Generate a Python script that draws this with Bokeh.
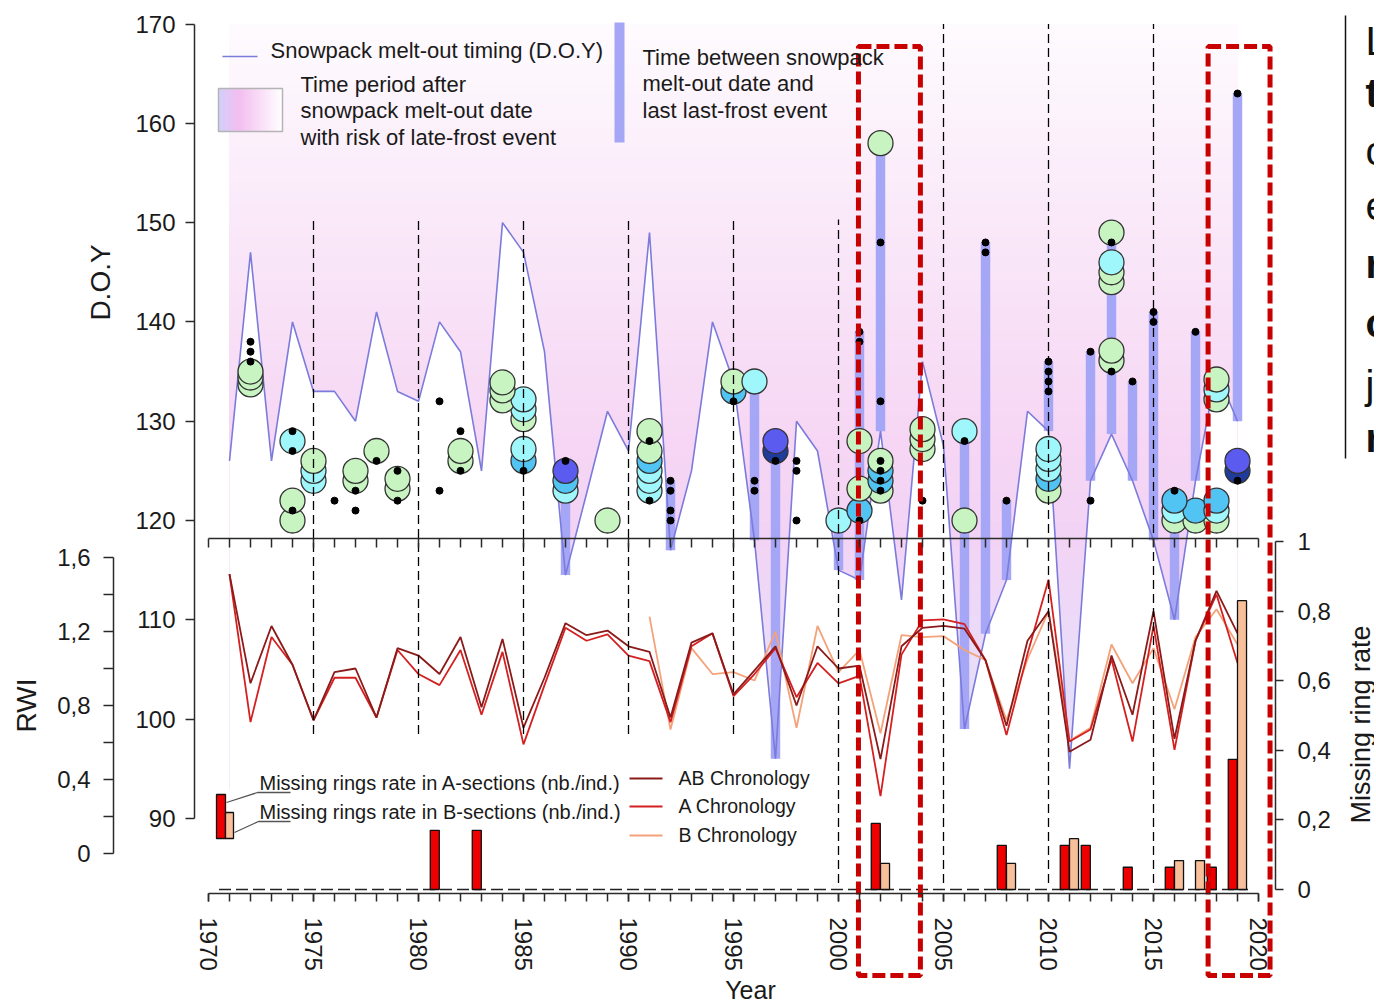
import numpy as np
from bokeh.plotting import figure
from bokeh.models import Range1d, LinearAxis, FixedTicker, CustomJSTickFormatter, ColumnDataSource
from bokeh.core.properties import value
from bokeh.transform import dodge
from bokeh.embed import file_html
from bokeh.resources import INLINE

# ---------------- data ----------------
years = list(range(1971, 2020))
melt_out_doy = [126, 147, 126, 140, 133, 133, 130, 141, 133, 132,
                140, 137, 125, 150, 147, 137, 114.5, 122.7, 131, 127,
                149, 117, 125, 140, 134, 118, 96, 130, 127, 115,
                114, 129, 112, 136, 127.5, 99, 108.6, 114, 131, 129,
                95, 124, 128.7, 124, 118, 110, 124, 135, 130]

rwi_ab = [1.51, 0.92, 1.23, 1.02, 0.72, 0.98, 1.00, 0.735, 1.11, 1.07,
          0.97, 1.17, 0.79, 1.16, 0.68, 0.95, 1.245, 1.18, 1.205, 1.12,
          1.09, 0.735, 1.14, 1.19, 0.86, 0.99, 1.12, 0.80, 1.12, 1.00,
          1.015, 0.51, 1.12, 1.22, 1.23, 1.215, 1.045, 0.69, 1.15, 1.31,
          0.55, 0.615, 1.07, 0.75, 1.31, 0.62, 1.15, 1.42, 1.19]
rwi_a = [1.51, 0.71, 1.17, 1.02, 0.72, 0.95, 0.95, 0.735, 1.10, 0.97,
         0.91, 1.10, 0.75, 1.09, 0.59, 0.91, 1.22, 1.15, 1.185, 1.07,
         1.04, 0.71, 1.12, 1.19, 0.85, 0.97, 1.11, 0.845, 1.03, 0.92,
         0.96, 0.31, 1.075, 1.26, 1.265, 1.24, 1.045, 0.64, 1.08, 1.48,
         0.605, 0.67, 1.05, 0.605, 1.23, 0.56, 1.15, 1.40, 1.03]
years_b = list(range(1991, 2020))
rwi_b = [1.28, 0.67, 1.11, 0.97, 0.98, 0.935, 1.20, 0.68, 1.23, 0.98,
         1.10, 0.65, 1.18, 1.17, 1.175, 1.10, 1.045, 0.72, 1.05, 1.31,
         0.61, 0.68, 1.13, 0.92, 1.11, 0.78, 1.17, 1.32, 1.13]

missing_a_years = [1981, 1983, 2002, 2008, 2011, 2012, 2014, 2016, 2018, 2019]
missing_a_rate = [0.17, 0.17, 0.19, 0.127, 0.127, 0.127, 0.064, 0.064, 0.064, 0.374]
missing_b_years = [2002, 2008, 2011, 2016, 2017, 2019]
missing_b_rate = [0.075, 0.075, 0.146, 0.083, 0.083, 0.83]

frost_bar_years = [1987, 1992, 1996, 1997, 2000, 2001, 2002, 2006, 2007,
                   2008, 2010, 2012, 2013, 2014, 2015, 2016, 2017, 2019]
last_frost_doy = [126, 124, 134, 128, 120, 139, 158, 129, 148,
                  122, 136, 137, 148, 134, 141, 123, 139, 163]

circle_years = [1972, 1972, 1972, 1974, 1974, 1974, 1975, 1975, 1975,
                1977, 1977, 1978, 1979, 1979, 1982, 1982, 1984, 1984, 1984,
                1985, 1985, 1985, 1985, 1985, 1987, 1987, 1987, 1989,
                1991, 1991, 1991, 1991, 1991, 1991, 1995, 1995, 1996,
                1997, 1997, 2000, 2001, 2001, 2001, 2002, 2002, 2002, 2002, 2002,
                2004, 2004, 2004, 2006, 2006, 2010, 2010, 2010, 2010, 2010,
                2013, 2013, 2013, 2013, 2013, 2013, 2016, 2016, 2016, 2017, 2017,
                2018, 2018, 2018, 2018, 2018, 2018, 2019, 2019]
circle_doy = [133.7, 134.4, 135.0, 120, 122, 128, 124, 125, 126,
              124, 125, 127, 123.2, 124.2, 126, 127, 132.1, 133.1, 133.9,
              126, 127.2, 130.2, 131.2, 132.2, 123, 124, 125, 120,
              123, 124, 125, 126, 127, 129, 133, 134, 134,
              127, 128, 120, 121, 123.2, 128, 123, 124, 125, 126, 158,
              127.2, 128.2, 129.2, 120, 129, 123, 124.2, 125.2, 126.2, 127.2,
              136.1, 137.1, 144, 145, 146, 149, 120, 121, 122, 120, 121,
              120, 121, 122, 132.2, 133.2, 134.2, 125, 126]
circle_class = ["g", "g", "g", "g", "g", "c", "c", "c", "g",
                "g", "g", "g", "g", "g", "g", "g", "g", "g", "g",
                "m", "c", "g", "c", "c", "c", "m", "b", "g",
                "c", "c", "c", "m", "g", "g", "m", "g", "c",
                "n", "b", "c", "m", "g", "g", "g", "m", "m", "g", "g",
                "g", "g", "g", "g", "c", "g", "m", "c", "c", "c",
                "g", "g", "g", "g", "c", "g", "g", "c", "m", "g", "m",
                "g", "c", "m", "g", "c", "g", "n", "b"]

dot_years = [1972, 1972, 1972, 1974, 1974, 1974, 1976, 1977, 1977, 1978,
             1979, 1979, 1981, 1981, 1982, 1982, 1985, 1987, 1991, 1991,
             1992, 1992, 1992, 1992, 1995, 1996, 1996, 1997, 1998, 1998, 1998,
             2001, 2001, 2001, 2002, 2002, 2002, 2002, 2002, 2002, 2004, 2006,
             2007, 2007, 2008, 2010, 2010, 2010, 2010, 2012, 2012, 2013, 2013,
             2014, 2015, 2015, 2016, 2017, 2019, 2019]
dot_doy = [136, 137, 138, 121, 127, 129, 122, 121, 123, 126,
           122, 125, 123, 132, 125, 129, 125, 126, 122, 128,
           120, 121, 123, 124, 132, 123, 124, 126, 120, 125, 126,
           120, 138, 139, 123, 124, 125, 126, 132, 148, 122, 128,
           147, 148, 122, 133, 134, 135, 136, 122, 137, 135, 148,
           134, 140, 141, 123, 139, 124, 163]

decade_lines = [1975, 1980, 1985, 1990, 1995, 2000, 2005, 2010, 2015]
decade_top_doy = [150.3, 150.3, 150.3, 150.3, 150.3, 150.3, 170, 170, 170]
decade_bottom_doy = [98.5, 98.5, 98.5, 98.5, 98.5, 83.5, 83.5, 83.5, 83.5]

highlight_start = [2000.95, 2017.6]
highlight_end = [2003.9, 2020.55]

year_ticks = list(range(1970, 2021, 5))
year_minor = list(range(1970, 2021))
doy_ticks = list(range(90, 171, 10))
rwi_ticks = [0, 0.4, 0.8, 1.2, 1.6]
rwi_minor = [0.2, 0.6, 1.0, 1.4]
rate_ticks = [0, 0.2, 0.4, 0.6, 0.8, 1.0]

# ---------------- layout ----------------
W, H = 1374, 1002
ORIGIN = 0          # page offset of the canvas
X0, XS = 208.0, 21.0


def year_at(px):
    return 1970 + (px - X0) / XS


def doy_at(py):
    return 120 + (520.0 - py) / 9.93


def rwi_at(py):
    return (853.0 - py) / 185.0


def rate_at(py):
    return (889.0 - py) / 348.0


FONT = "Liberation Sans"
TXT = "#1a1a1a"
AX = "#2a2a2a"

p = figure(width=W, height=H, output_backend="svg", toolbar_location=None,
           x_range=Range1d(year_at(ORIGIN), year_at(ORIGIN + W)),
           y_range=Range1d(doy_at(ORIGIN + H), doy_at(ORIGIN)),
           x_axis_type=None, y_axis_type=None, title=None, min_border=0)
p.extra_y_ranges = {"rwi": Range1d(rwi_at(ORIGIN + H), rwi_at(ORIGIN)),
                    "rate": Range1d(rate_at(ORIGIN + H), rate_at(ORIGIN))}
p.outline_line_color = None
p.background_fill_color = "white"
p.border_fill_color = "white"


def lerp(stops, v):
    for (a, ca), (b, cb) in zip(stops[:-1], stops[1:]):
        if a <= v <= b:
            t = (v - a) / (b - a)
            c = [int(round(ca[i] + (cb[i] - ca[i]) * t)) for i in range(3)]
            return "#%02x%02x%02x" % tuple(c)
    return "#%02x%02x%02x" % (stops[-1][1] if v > stops[-1][0] else stops[0][1])


# background gradient above the melt-out line
grad_stops = [(93, (221, 221, 251)), (106, (233, 221, 249)), (118, (243, 211, 245)),
              (128, (246, 214, 244)), (146, (249, 229, 248)), (170, (254, 251, 254))]
lv = np.linspace(93, 170, 156)
gcols = [lerp(grad_stops, (a + b) / 2) for a, b in zip(lv[:-1], lv[1:])]
p.quad(left=years[0], right=years[-1], bottom=lv[:-1], top=lv[1:],
       fill_color=gcols, line_color=gcols, line_width=1)
p.varea(x=years, y1=np.full(len(years), 90.0), y2=melt_out_doy, fill_color="white")

# time between melt-out and last frost
melt_lookup = dict(zip(years, melt_out_doy))
p.vbar(x=frost_bar_years, bottom=[melt_lookup[y] for y in frost_bar_years],
       top=last_frost_doy, width=0.45, fill_color="#a6a6f6", line_color=None)

p.line(years, melt_out_doy, line_color="#7b7bdc", line_width=1.6)

# chronologies
p.line(years_b, rwi_b, y_range_name="rwi", line_color="#f4a27a", line_width=1.8)
p.line(years, rwi_a, y_range_name="rwi", line_color="#d42020", line_width=1.8)
p.line(years, rwi_ab, y_range_name="rwi", line_color="#8b1a1a", line_width=1.8)

# missing ring rate bars
p.line([years[0] - 0.5, years[-1] + 0.5], [0, 0], y_range_name="rate",
       line_color="#222", line_width=1.4, line_dash="12 5")
src_a = ColumnDataSource(dict(year=missing_a_years, rate=missing_a_rate))
src_b = ColumnDataSource(dict(year=missing_b_years, rate=missing_b_rate))
p.vbar(x=dodge("year", -0.225, range=p.x_range), top="rate", bottom=0, width=0.43,
       source=src_a, y_range_name="rate", fill_color="#ee0000", line_color="#111", line_width=1.3)
p.vbar(x=dodge("year", 0.215, range=p.x_range), top="rate", bottom=0, width=0.43,
       source=src_b, y_range_name="rate", fill_color="#f7bf9a", line_color="#111", line_width=1.3)

# frost-event circles and dots
class_colors = {"g": "#c8f4c2", "c": "#a0f7fb", "m": "#52c4f3", "b": "#5b5bf0", "n": "#1f3b9b"}
order = np.argsort(np.array(circle_doy), kind="stable")
p.scatter(x=[circle_years[i] for i in order], y=[circle_doy[i] for i in order],
          marker="circle", size=25,
          fill_color=[class_colors[circle_class[i]] for i in order],
          line_color="#333333", line_width=1.3)
p.scatter(x=dot_years, y=dot_doy, marker="circle", size=7, color="black")

# decade dashed lines
p.segment(x0=decade_lines, y0=decade_bottom_doy, x1=decade_lines, y1=decade_top_doy,
          line_color="black", line_width=1.3, line_dash="9 5")

# highlighted periods
p.quad(left=highlight_start, right=highlight_end, bottom=doy_at(975), top=doy_at(46),
       fill_color=None, line_color="#c80000", line_width=5, line_dash="13 5")


# ---------------- axes ----------------
def style_axis(ax, tick_len, size="24px"):
    ax.axis_line_color = AX
    ax.axis_line_width = 1.5
    ax.major_tick_line_color = AX
    ax.major_tick_line_width = 1.5
    ax.minor_tick_line_color = AX
    ax.minor_tick_line_width = 1.5
    ax.major_tick_in = 0
    ax.major_tick_out = tick_len
    ax.minor_tick_in = 0
    ax.minor_tick_out = tick_len
    ax.major_label_text_font = FONT
    ax.major_label_text_font_size = size
    ax.major_label_text_color = TXT
    ax.axis_label_text_font = FONT
    ax.axis_label_text_font_style = "normal"
    ax.axis_label_text_color = TXT


xax = LinearAxis(fixed_location=doy_at(893), bounds=(1970, 2020),
                 ticker=FixedTicker(ticks=year_ticks, minor_ticks=year_minor),
                 major_label_orientation="vertical")
style_axis(xax, 8, size="24px")
xax.major_label_standoff = 16
p.add_layout(xax, "below")

inner = LinearAxis(fixed_location=doy_at(538), bounds=(1970, 2020),
                   ticker=FixedTicker(ticks=year_minor),
                   formatter=CustomJSTickFormatter(code="return ''"))
style_axis(inner, 9)
p.add_layout(inner, "below")

doy_ax = LinearAxis(fixed_location=year_at(194), bounds=(90, 170),
                    ticker=FixedTicker(ticks=doy_ticks))
style_axis(doy_ax, 9)
doy_ax.major_label_standoff = 10
p.add_layout(doy_ax, "left")

rwi_ax = LinearAxis(y_range_name="rwi", fixed_location=year_at(113), bounds=(0, 1.6),
                    ticker=FixedTicker(ticks=rwi_ticks, minor_ticks=rwi_minor),
                    formatter=CustomJSTickFormatter(
                        code="return tick == 0 ? '0' : tick.toFixed(1).replace('.', ',')"),
                    axis_label="RWI")
style_axis(rwi_ax, 10)
rwi_ax.major_label_standoff = 13
rwi_ax.axis_label_standoff = 12
rwi_ax.axis_label_text_font_size = "28px"
p.add_layout(rwi_ax, "left")

rate_ax = LinearAxis(y_range_name="rate", fixed_location=year_at(1275), bounds=(0, 1),
                     ticker=FixedTicker(ticks=rate_ticks),
                     formatter=CustomJSTickFormatter(
                         code="if (tick == 0) return '0'; if (Math.abs(tick - 1) < 1e-9) return '1';"
                              " return tick.toFixed(1).replace('.', ',');"))
style_axis(rate_ax, 8)
rate_ax.major_label_standoff = 14
p.add_layout(rate_ax, "right")


# ---------------- texts and legends ----------------
def label(px, py, txt, size="22px", align="left", angle=0.0, style="normal", color=TXT):
    p.text(x=[year_at(px)], y=[doy_at(py)], text=[txt], text_font=value(FONT),
           text_font_size=value(size), text_align=align, text_baseline="middle",
           text_color=color, angle=angle, text_font_style=style)


label(100, 282, "D.O.Y", size="28px", align="center", angle=np.pi / 2)
label(1360, 724, "Missing ring rate", size="27px", align="center", angle=np.pi / 2)
label(750, 989, "Year", size="25px", align="center")

# snowpack legend
p.line([year_at(222), year_at(257)], [doy_at(56), doy_at(56)], line_color="#7b7bdc", line_width=1.6)
label(270, 50, "Snowpack melt-out timing (D.O.Y)")

# gradient swatch
sw_stops = [(0.0, (208, 208, 252)), (0.33, (243, 190, 240)), (1.0, (255, 255, 255))]
sx = np.linspace(218, 282, 65)
scols = [lerp(sw_stops, ((a + b) / 2 - 218) / 64) for a, b in zip(sx[:-1], sx[1:])]
p.quad(left=[year_at(v) for v in sx[:-1]], right=[year_at(v) for v in sx[1:]],
       bottom=doy_at(131), top=doy_at(88), fill_color=scols, line_color=scols, line_width=1)
p.quad(left=year_at(218), right=year_at(282), bottom=doy_at(131), top=doy_at(88),
       fill_color=None, line_color="#b4b4b4", line_width=1.5)
label(300, 84, "Time period after")
label(300, 110, "snowpack melt-out date")
label(300, 137, "with risk of late-frost event")

# frost-gap bar legend
p.quad(left=year_at(614), right=year_at(624), bottom=doy_at(142), top=doy_at(22),
       fill_color="#a6a6f6", line_color=None)
label(642, 57, "Time between snowpack")
label(642, 83, "melt-out date and")
label(642, 110, "last last-frost event")

# missing ring legend
p.quad(left=year_at(216), right=year_at(225), bottom=doy_at(838), top=doy_at(794),
       fill_color="#ee0000", line_color="#111", line_width=1.3)
p.quad(left=year_at(225), right=year_at(233), bottom=doy_at(838), top=doy_at(812),
       fill_color="#f7bf9a", line_color="#111", line_width=1.3)
p.line([year_at(226), year_at(257), year_at(290)], [doy_at(802), doy_at(792), doy_at(792)],
       line_color="#555", line_width=1.3)
p.line([year_at(234), year_at(258), year_at(290)], [doy_at(832), doy_at(821), doy_at(821)],
       line_color="#555", line_width=1.3)
label(259, 782, "Missing rings rate in A-sections (nb./ind.)", size="20px")
label(259, 811, "Missing rings rate in B-sections (nb./ind.)", size="20px")

# chronology legend
for py, col, txt in [(778, "#8b1a1a", "AB Chronology"), (806, "#d42020", "A Chronology"),
                     (835, "#f4a27a", "B Chronology")]:
    p.line([year_at(629), year_at(662)], [doy_at(py), doy_at(py)], line_color=col, line_width=1.8)
    label(678, py - 1, txt, size="19.5px")

# text box cut by the right edge
p.line([year_at(1345), year_at(1345)], [doy_at(15), doy_at(458)], line_color="#111", line_width=1.5)
for py, ch, st in [(40, "L", "normal"), (92, "t", "bold"), (150, "c", "normal"), (205, "e", "normal"),
                   (263, "r", "bold"), (322, "c", "bold"), (384, "j", "normal"), (437, "r", "bold")]:
    label(1365, py, ch, size="40px", style=st, color="#111")

open("out.html", "w").write(file_html(p, INLINE))
